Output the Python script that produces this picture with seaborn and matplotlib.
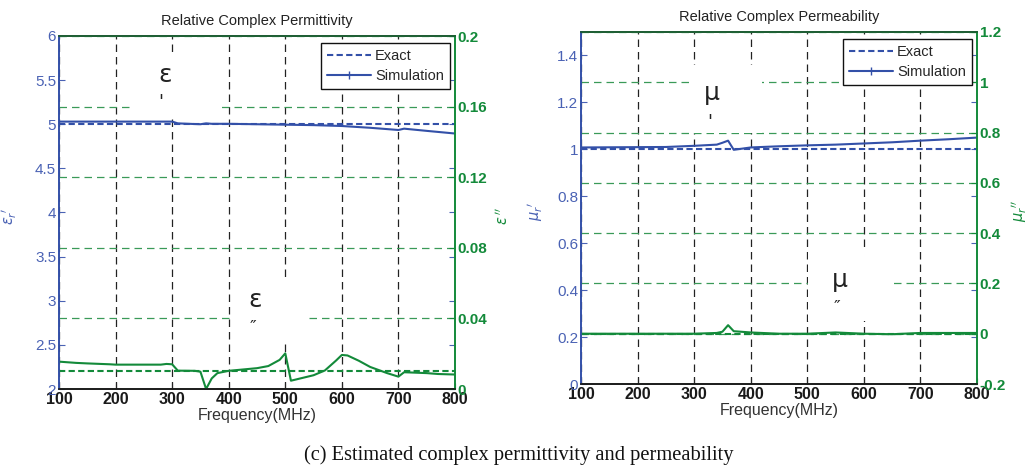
import numpy as np
import pandas as pd
import matplotlib
matplotlib.use("Agg")
import matplotlib.pyplot as plt
import seaborn as sns
from matplotlib.lines import Line2D
from matplotlib.patches import Rectangle

# ---------------- data ----------------
freq_ticks = [100, 200, 300, 400, 500, 600, 700, 800]

# permittivity real part (left axis)
eps_r_exact_f = [100, 800]
eps_r_exact = [5.0, 5.0]
eps_r_sim_f = [100, 300, 310, 350, 360, 370, 400, 450, 500, 550, 600, 650, 700, 710, 750, 800]
eps_r_sim = [5.03, 5.03, 5.01, 5.0, 5.01, 5.005, 5.005, 5.0, 4.995, 4.99, 4.98, 4.96, 4.935, 4.95, 4.925, 4.895]

# permittivity imaginary part (right axis)
eps_i_exact_f = [100, 800]
eps_i_exact = [0.01, 0.01]
eps_i_sim_f = [100, 130, 150, 190, 200, 280, 290, 300, 310, 340, 350, 360, 370, 380, 400,
               450, 470, 490, 500, 510, 550, 570, 590, 600, 610, 630, 650, 680, 700,
               710, 750, 770, 800]
eps_i_sim = [0.0155, 0.0148, 0.0145, 0.0140, 0.0138, 0.0138, 0.0142, 0.0140, 0.0104, 0.0103, 0.0098, 0.0,
             0.0060, 0.0090, 0.0103, 0.0118, 0.0130, 0.0165, 0.0202, 0.0047, 0.0078, 0.0105, 0.0162,
             0.0193, 0.0190, 0.0160, 0.0125, 0.0090, 0.0070, 0.0095, 0.0090, 0.0085, 0.0082]

# permeability real part (left axis)
mu_r_exact_f = [100, 800]
mu_r_exact = [1.0, 1.0]
mu_r_sim_f = [100, 250, 300, 340, 350, 360, 370, 400, 450, 500, 550, 600, 650, 700, 750, 800]
mu_r_sim = [1.008, 1.01, 1.015, 1.02, 1.028, 1.037, 0.998, 1.008, 1.013, 1.017, 1.02, 1.025, 1.03, 1.037, 1.043, 1.05]

# permeability imaginary part (right axis)
mu_i_exact_f = [100, 800]
mu_i_exact = [0.0, 0.0]
mu_i_sim_f = [100, 300, 340, 350, 360, 370, 400, 450, 500, 550, 600, 650, 700, 800]
mu_i_sim = [0.0, 0.0, 0.003, 0.008, 0.034, 0.01, 0.005, 0.0, 0.0, 0.005, 0.0, -0.002, 0.003, 0.003]

left_ticks_eps = [2, 2.5, 3, 3.5, 4, 4.5, 5, 5.5, 6]
right_ticks_eps = [0, 0.04, 0.08, 0.12, 0.16, 0.2]
left_ticks_mu = [0, 0.2, 0.4, 0.6, 0.8, 1.0, 1.2, 1.4]
right_ticks_mu = [-0.2, 0, 0.2, 0.4, 0.6, 0.8, 1.0, 1.2]

# ---------------- style ----------------
sns.set_style("white")
plt.rcParams['font.family'] = ['Liberation Sans', 'DejaVu Sans']
plt.rcParams['mathtext.fontset'] = 'dejavusans'

BLUE = "#3350a8"
BLUE_T = "#4a62b4"
GREEN = "#138a3a"
GREEN_G = "#3a9a58"

fig = plt.figure(figsize=(10.28, 4.73), dpi=100)


def panel(rect, title, lf, ly_ex, lfs, ly_sim, rf, ry_ex, rfs, ry_sim,
          lyl, ryl, lticks, rticks, llabel, rlabel, rlabel_x, llabel_x,
          notes, boxes):
    ax = fig.add_axes(rect)
    ax2 = ax.twinx()
    ax.set_zorder(1)
    ax2.set_zorder(2)
    ax2.patch.set_visible(False)

    sns.lineplot(x=lf, y=ly_ex, ax=ax, color=BLUE, lw=1.5)
    ax.lines[-1].set_linestyle((0, (3, 1.6)))
    sns.lineplot(x=lfs, y=ly_sim, ax=ax, color=BLUE, lw=1.5)
    sns.lineplot(x=rf, y=ry_ex, ax=ax2, color=GREEN, lw=1.5)
    ax2.lines[-1].set_linestyle((0, (3, 1.6)))
    sns.lineplot(x=rfs, y=ry_sim, ax=ax2, color=GREEN, lw=1.5)

    ax.set_xlim(100, 800)
    ax.set_ylim(lticks[0], lyl)
    ax2.set_ylim(rticks[0], ryl)
    ax.set_xticks(freq_ticks)
    ax.set_yticks(lticks)
    ax2.set_yticks(rticks)
    ax.set_yticklabels([("%g" % v) for v in lticks], color=BLUE_T, fontsize=11)
    ax2.set_yticklabels([("%g" % v) for v in rticks], color=GREEN, fontsize=11, fontweight='bold')
    ax.set_xticklabels([str(v) for v in freq_ticks], fontsize=11.5, fontweight='bold', color='#1a1a1a')

    ax.tick_params(axis='x', direction='in', length=4, pad=2, bottom=True, top=False)
    ax.tick_params(axis='y', direction='in', length=4, pad=2, colors=BLUE_T, left=True, right=True)
    ax2.tick_params(axis='y', direction='in', length=4, pad=2, colors=GREEN, right=True)

    # grids
    ax.set_axisbelow(True)
    ax2.set_axisbelow(True)
    ax.xaxis.grid(True, color='#222222', ls=(0, (6, 4)), lw=0.9)
    ax.yaxis.grid(False)
    ax2.yaxis.grid(True, color=GREEN_G, ls=(0, (6, 4)), lw=0.9)
    ax2.xaxis.grid(False)

    for a in (ax, ax2):
        for s in a.spines.values():
            s.set_linewidth(1.2)
            s.set_visible(True)
        a.spines['left'].set_color(BLUE)
        a.spines['right'].set_color(GREEN)
        a.spines['top'].set_color('#1a5a30')
        a.spines['bottom'].set_color('#1a1a1a')

    ax.set_title(title, fontsize=10.5, color='#222222', pad=8)
    ax.set_xlabel("Frequency(MHz)", fontsize=11.5, color='#333333', labelpad=1)
    ax.set_ylabel(llabel, color=BLUE_T, fontsize=10.5)
    ax2.set_ylabel(rlabel, color=GREEN, fontsize=10.5)
    ax.yaxis.set_label_coords(llabel_x, 0.49)
    ax2.yaxis.set_label_coords(rlabel_x, 0.49)

    # white label boxes hiding grid
    for (x0, x1, y0, y1) in boxes:
        ax2.add_patch(Rectangle((x0, y0), x1 - x0, y1 - y0, transform=ax.transData,
                                facecolor='white', edgecolor='none', zorder=1))
    for (x, y, s, fs) in notes:
        ax2.text(x, y, s, transform=ax.transData, fontsize=fs, ha='center', va='center',
                 color='#222222', family='DejaVu Sans', zorder=3)

    handles = [Line2D([], [], color=BLUE, lw=1.5, ls=(0, (3, 1.6))),
               Line2D([0, 0.5, 1], [0, 0, 0], color=BLUE, lw=1.5, marker='|',
                      markersize=6, markevery=[1])]
    leg = ax2.legend(handles, ["Exact", "Simulation"], loc='upper right',
                     bbox_to_anchor=(0.987, 0.98), borderaxespad=0, fancybox=False,
                     framealpha=1, edgecolor='#111111', fontsize=10.5, handlelength=3.0,
                     handletextpad=0.3, borderpad=0.4, labelspacing=0.45)
    leg.get_frame().set_linewidth(1.0)
    leg.set_zorder(5)
    return ax, ax2


panel([59 / 1028, 1 - 389 / 473, 396 / 1028, 353 / 473],
      "Relative Complex Permittivity",
      eps_r_exact_f, eps_r_exact, eps_r_sim_f, eps_r_sim,
      eps_i_exact_f, eps_i_exact, eps_i_sim_f, eps_i_sim,
      6, 0.2, left_ticks_eps, right_ticks_eps,
      r"$\varepsilon_r{}'$", r"$\varepsilon\,''$", 1.100, -0.102,
      [(287, 5.56, "ε", 18), (280, 5.25, "'", 13), (447, 3.01, "ε", 18), (443, 2.69, "″", 13)],
      [(231, 379, 5.07, 5.79), (404, 542, 2.55, 3.24)])

panel([581 / 1028, 1 - 384 / 473, 396 / 1028, 352 / 473],
      "Relative Complex Permeability",
      mu_r_exact_f, mu_r_exact, mu_r_sim_f, mu_r_sim,
      mu_i_exact_f, mu_i_exact, mu_i_sim_f, mu_i_sim,
      1.5, 1.2, left_ticks_mu, right_ticks_mu,
      r"$\mu_r{}'$", r"$\mu_r{}''$", 1.083, -0.090,
      [(332, 1.24, "μ", 18), (327, 1.115, "'", 13), (558, 0.443, "μ", 18), (553, 0.325, "″", 13)],
      [(293, 420, 1.07, 1.36), (501, 651, 0.268, 0.57)])

fig.text(0.505, 0.038, "(c) Estimated complex permittivity and permeability",
         ha='center', va='center', fontsize=14.8, family='Liberation Serif', color='#111111')

fig.savefig("out.png", dpi=100)
